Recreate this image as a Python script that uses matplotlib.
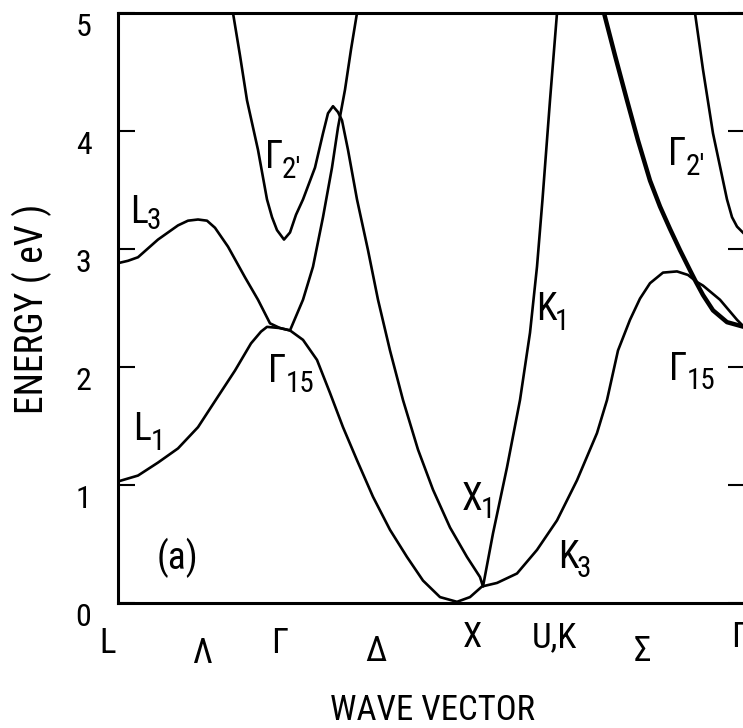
import matplotlib
matplotlib.use("Agg")
import matplotlib.pyplot as plt
from matplotlib import font_manager as fm

# ---------------- data (k in arbitrary path units, E in eV) ----------------
# Band from L1 -> Gamma15 -> down along Delta -> X -> K3 -> Sigma -> Gamma15
band_a_k = [0.00, 0.20, 0.40, 0.60, 0.80, 1.00, 1.17, 1.33, 1.43, 1.49, 1.62, 1.72,
            1.85, 1.99, 2.12, 2.25, 2.39, 2.55, 2.72, 2.89, 3.05, 3.22, 3.39,
            3.52, 3.64, 3.79, 3.99, 4.19, 4.39, 4.59, 4.79, 4.89, 5.00, 5.12,
            5.22, 5.32, 5.45, 5.59, 5.70, 5.79, 5.85, 6.02, 6.19, 6.26]
band_a_e = [1.03, 1.08, 1.19, 1.31, 1.49, 1.75, 1.97, 2.20, 2.30, 2.34, 2.33, 2.31,
            2.23, 2.06, 1.78, 1.49, 1.21, 0.90, 0.62, 0.39, 0.19, 0.05, 0.01,
            0.05, 0.14, 0.17, 0.25, 0.45, 0.70, 1.04, 1.44, 1.72, 2.14, 2.40,
            2.58, 2.71, 2.80, 2.81, 2.78, 2.72, 2.69, 2.57, 2.40, 2.34]

# Band from L3 -> Gamma15 -> steeply up along Delta
band_b_k = [0.00, 0.10, 0.20, 0.40, 0.60, 0.70, 0.80, 0.89, 0.97, 1.10, 1.27, 1.40,
            1.52, 1.62, 1.72, 1.85, 1.95, 2.05, 2.14, 2.20, 2.27, 2.33, 2.39]
band_b_e = [2.88, 2.90, 2.93, 3.08, 3.20, 3.24, 3.25, 3.24, 3.18, 3.02, 2.76, 2.57,
            2.37, 2.33, 2.31, 2.57, 2.85, 3.27, 3.69, 4.03, 4.35, 4.69, 5.00]

# Gamma2' band -> peak -> down to X -> K1
band_c_k = [1.15, 1.22, 1.29, 1.40, 1.49, 1.54, 1.59, 1.66, 1.72, 1.78, 1.85, 1.97,
            2.05, 2.10, 2.15, 2.20, 2.24, 2.30, 2.39, 2.50, 2.60, 2.72, 2.85,
            3.00, 3.15, 3.32, 3.49, 3.62, 3.65, 3.75, 3.89, 4.02,
            4.12, 4.19, 4.245, 4.32, 4.39]
band_c_e = [5.00, 4.64, 4.26, 3.84, 3.42, 3.27, 3.16, 3.08, 3.14, 3.29, 3.42, 3.69,
            3.98, 4.15, 4.21, 4.16, 4.09, 3.84, 3.42, 2.99, 2.57, 2.14, 1.72,
            1.30, 0.96, 0.64, 0.39, 0.22, 0.14, 0.59, 1.15, 1.72,
            2.29, 2.85, 3.42, 4.26, 5.00]

# Doubly degenerate band along Sigma (drawn heavy)
band_d_k = [4.86, 4.97, 5.09, 5.20, 5.32, 5.42, 5.52, 5.62, 5.72, 5.78, 5.85,
            5.95, 6.09, 6.26]
band_d_e = [5.00, 4.64, 4.26, 3.92, 3.58, 3.36, 3.17, 2.99, 2.82, 2.72, 2.61,
            2.48, 2.38, 2.34]

# Gamma2' band along Sigma
band_e_k = [5.77, 5.85, 5.95, 6.09, 6.14, 6.19, 6.26]
band_e_e = [5.00, 4.52, 3.98, 3.42, 3.27, 3.19, 3.13]

# symmetry-point labels below the axis
kpath_labels = ["L", "Λ", "Γ", "Δ", "X", "U,K", "Σ", "Γ"]
kpath_pos = [-0.10, 0.84, 1.62, 2.58, 3.54, 4.36, 5.24, 6.22]
kpath_yoff = [-0.068, -0.085, -0.068, -0.083, -0.058, -0.058, -0.082, -0.058]

energy_ticks = [0, 1, 2, 3, 4, 5]

# state labels inside the plot: (main, subscript, k_main, E_main, k_sub, E_sub)
state_labels = [
    ("L", "3", 0.12, 3.22, 0.29, 3.17),
    ("L", "1", 0.15, 1.38, 0.33, 1.30),
    ("Γ", "2'", 1.47, 3.69, 1.64, 3.60),
    ("Γ", "15", 1.50, 1.87, 1.68, 1.79),
    ("X", "1", 3.44, 0.79, 3.63, 0.72),
    ("K", "1", 4.18, 2.40, 4.37, 2.31),
    ("K", "3", 4.40, 0.30, 4.59, 0.22),
    ("Γ", "2'", 5.50, 3.71, 5.68, 3.63),
    ("Γ", "15", 5.51, 1.89, 5.69, 1.81),
]

# ---------------- fonts ----------------
names = {f.name for f in fm.fontManager.ttflist}
STRETCH = "normal"
FONT = None
for cand in ["Roboto Condensed", "Liberation Sans Narrow", "Open Sans Condensed",
             "Arial Narrow", "DejaVu Sans Condensed"]:
    if cand in names:
        FONT = [cand, "DejaVu Sans"]
        break
if FONT is None:
    FONT = ["DejaVu Sans"]
    STRETCH = "condensed"
plt.rcParams["font.family"] = FONT
plt.rcParams["font.stretch"] = STRETCH

W, H = 743, 728
fig = plt.figure(figsize=(W / 100, H / 100), dpi=100)
ax = fig.add_axes([118 / W, (H - 603) / H, (745 - 118) / W, (603 - 13) / H])
ax.set_xlim(0, 6.27)
ax.set_ylim(0, 5)

LW = 1.9
for kk, ee, lw in [(band_a_k, band_a_e, LW), (band_b_k, band_b_e, LW),
                   (band_c_k, band_c_e, LW), (band_d_k, band_d_e, 3.2),
                   (band_e_k, band_e_e, LW)]:
    ax.plot(kk, ee, color="black", lw=lw, solid_capstyle="round",
            solid_joinstyle="round")

for s in ax.spines.values():
    s.set_linewidth(2.2)

ax.set_xticks([])
ax.set_yticks(energy_ticks)
ax.set_yticklabels([str(t) for t in energy_ticks])
ax.tick_params(axis="y", direction="in", length=12, width=1.5, right=True,
               labelright=False, labelsize=23, pad=19)
for lab in ax.get_yticklabels():
    lab.set_va("top")

for lab, pos, yo in zip(kpath_labels, kpath_pos, kpath_yoff):
    ax.text(pos, yo, lab, transform=ax.get_xaxis_transform(), ha="center",
            va="center", fontsize=25, clip_on=False)

for main, sub, km, em, ks, es in state_labels:
    ax.text(km, em, main, fontsize=27, ha="left", va="baseline")
    ax.text(ks, es, sub, fontsize=21, ha="left", va="baseline")

ax.text(0.59, 0.38, "(a)", fontsize=27, ha="center", va="center")

fig.text(32 / W, 1 - 309 / H, "ENERGY ( eV )", rotation=90, ha="center",
         va="center", fontsize=27)
fig.text(433 / W, 1 - 711 / H, "WAVE VECTOR", ha="center", va="center",
         fontsize=25)

fig.savefig("out.png", dpi=100)
